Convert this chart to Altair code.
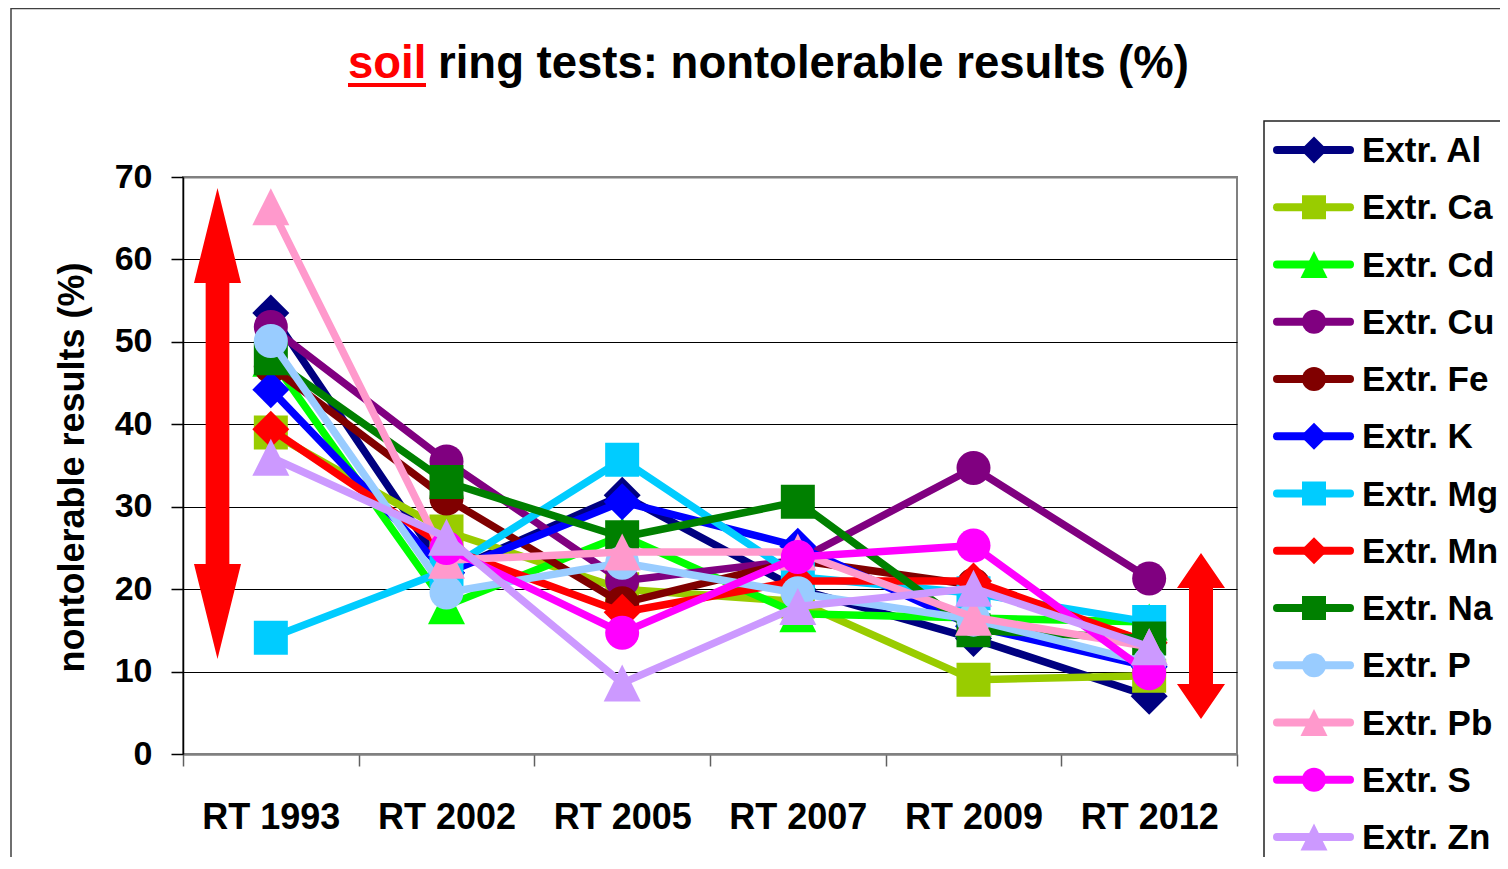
import altair as alt
import pandas as pd

tests = ["RT 1993", "RT 2002", "RT 2005", "RT 2007", "RT 2009", "RT 2012"]
names = ["Extr. Al", "Extr. Ca", "Extr. Cd", "Extr. Cu", "Extr. Fe", "Extr. K",
         "Extr. Mg", "Extr. Mn", "Extr. Na", "Extr. P", "Extr. Pb", "Extr. S", "Extr. Zn"]
colors = ["#000080", "#99CC00", "#00FF00", "#800080", "#800000", "#0000FF",
          "#00CCFF", "#FF0000", "#008000", "#99CCFF", "#FF99CC", "#FF00FF", "#CC99FF"]
kinds = ["diamond", "square", "triangle", "circle", "circle", "diamond",
         "square", "diamond", "square", "circle", "triangle", "circle", "triangle"]

al = [53.5, 22.0, 31.4, 20.0, 14.0, 7.0]
ca = [39.0, 27.0, 20.0, 18.5, 9.0, 9.5]
cd = [48.0, 18.0, 26.5, 17.0, 16.5, 16.0]
cu = [51.8, 35.5, 21.0, 23.5, 34.7, 21.3]
fe = [47.0, 31.0, 18.3, 23.5, 20.5, 13.5]
k = [44.2, 22.0, 30.6, 25.2, 15.5, 10.6]
mg = [14.1, 22.3, 35.7, 21.5, 19.5, 16.0]
mn = [39.4, 25.0, 17.2, 21.0, 21.0, 13.5]
na = [48.0, 33.0, 26.3, 30.6, 15.0, 14.0]
p = [50.1, 19.6, 23.2, 19.5, 16.3, 11.0]
pb = [66.4, 23.5, 24.5, 24.5, 16.6, 13.0]
s = [None, 25.0, 14.7, 23.9, 25.3, 9.8]
zn = [36.0, 26.3, 8.6, 17.9, 20.1, 13.0]
series = [al, ca, cd, cu, fe, k, mg, mn, na, p, pb, s, zn]

FONT = "Liberation Sans, Arial, sans-serif"
TRI = "M0,-1L1,1L-1,1Z"


def shape_of(kind):
    return TRI if kind == "triangle" else kind


def main_size(kind):
    return 1369 if kind in ("diamond", "triangle") else 1156


def leg_size(kind):
    return 729 if kind in ("diamond", "triangle") else 576


def arrow_path(h, head_w, head_h, shaft_w):
    r = h / 2.0
    a = head_w / 2.0 / r
    b = 1 - head_h / r
    c = shaft_w / 2.0 / r
    pts = [(0, -1), (a, -b), (c, -b), (c, b), (a, b), (0, 1), (-a, b), (-c, b), (-c, -b), (-a, -b)]
    return "M" + "L".join(f"{x:.4f},{y:.4f}" for x, y in pts) + "Z"


rows = []
for n, vals in zip(names, series):
    for t, v in zip(tests, vals):
        if v is not None:
            rows.append({"name": n, "test": t, "value": v})
df = pd.DataFrame(rows)

W, H = 1054, 577
PAD = {"left": 175, "top": 169, "right": 263, "bottom": 103}

grid_color = {"condition": {"test": "datum.value === 0 || datum.value === 70", "value": "#808080"}, "value": "#000000"}
grid_width = {"condition": {"test": "datum.value === 0 || datum.value === 70", "value": 2}, "value": 1}

x_enc = alt.X(
    "test:N", sort=tests, title=None,
    scale=alt.Scale(type="band", domain=tests, paddingInner=0, paddingOuter=0),
    axis=alt.Axis(tickBand="extent", labelAngle=0, grid=False, domainColor="#808080", domainWidth=2,
                  tickColor="#606060", tickWidth=1.5, tickSize=12, labelFont=FONT, labelFontSize=36,
                  labelFontWeight="bold", labelColor="black", labelBaseline="alphabetic", labelPadding=62),
)
y_enc = alt.Y(
    "value:Q",
    scale=alt.Scale(domain=[0, 70], nice=False, zero=True),
    axis=alt.Axis(values=[0, 10, 20, 30, 40, 50, 60, 70], grid=True, gridColor=grid_color, gridWidth=grid_width,
                  domainColor="black", domainWidth=1.5, tickColor="black", tickWidth=1.5, tickSize=12,
                  labelFont=FONT, labelFontSize=34, labelFontWeight="bold", labelColor="black", labelPadding=19,
                  title="nontolerable results (%)", titleFont=FONT, titleFontSize=36, titleFontWeight="bold",
                  titleColor="black", titleAngle=270, titleX=-100, titleY=290, titleAlign="center",
                  titleBaseline="alphabetic"),
)

one = pd.DataFrame({"a": [0]})

left_arrow = alt.Chart(one).mark_point(
    shape=arrow_path(471, 47, 95, 23.7), size=471 ** 2, filled=True, color="#FF0000", opacity=1, strokeWidth=0
).encode(x=alt.value(34.5), y=alt.value(246.5))
right_arrow = alt.Chart(one).mark_point(
    shape=arrow_path(166, 48, 35, 24), size=166 ** 2, filled=True, color="#FF0000", opacity=1, strokeWidth=0
).encode(x=alt.value(1018), y=alt.value(459))

layers = []
for n, c, kd in zip(names, colors, kinds):
    layers.append(
        alt.Chart().mark_line(color=c, strokeWidth=7.5, strokeJoin="round")
        .encode(x=x_enc, y=y_enc).transform_filter(alt.datum.name == n)
    )
    layers.append(
        alt.Chart().mark_point(shape=shape_of(kd), size=main_size(kd), filled=True, color=c, opacity=1, strokeWidth=0)
        .encode(x=x_enc, y=y_enc).transform_filter(alt.datum.name == n)
    )
main = alt.layer(*layers, data=df)

# legend
leg_df = pd.DataFrame({"name": names, "color": colors, "shape": [shape_of(kd) for kd in kinds],
                       "size": [leg_size(kd) for kd in kinds]})
leg_y = alt.Y("name:N", sort=names, axis=None,
              scale=alt.Scale(type="point", domain=names, range=[-27, 660], padding=0))
leg_box = alt.Chart(one).mark_rect(fillOpacity=0, stroke="#222222", strokeWidth=1.5).encode(
    x=alt.value(1081), x2=alt.value(1400), y=alt.value(-56), y2=alt.value(720))
leg_lines = alt.Chart(leg_df).mark_rule(strokeWidth=8, strokeCap="round").encode(
    x=alt.value(1094), x2=alt.value(1167), y=leg_y,
    color=alt.Color("color:N", scale=None, legend=None))
leg_pts = alt.Chart(leg_df).mark_point(filled=True, opacity=1, strokeWidth=0).encode(
    x=alt.value(1131), y=leg_y,
    color=alt.Color("color:N", scale=None, legend=None),
    shape=alt.Shape("shape:N", scale=None, legend=None),
    size=alt.Size("size:Q", scale=None, legend=None))
leg_text = alt.Chart(leg_df).mark_text(align="left", baseline="middle", font=FONT, fontSize=35,
                                       fontWeight="bold", color="black", dy=1).encode(
    x=alt.value(1179), y=leg_y, text="name:N")
legend = alt.layer(leg_box, leg_lines, leg_pts, leg_text)

# title and outer frame
frame = alt.Chart(one).mark_rect(fillOpacity=0, stroke="#404040", strokeWidth=1.5).encode(
    x=alt.value(-172), x2=alt.value(1400), y=alt.value(-168.5), y2=alt.value(900))
t_soil = alt.Chart(one).mark_text(text="soil", align="left", baseline="alphabetic", font=FONT, fontSize=45.5,
                                  fontWeight="bold", color="#FF0000").encode(x=alt.value(165), y=alt.value(-99))
t_rest = alt.Chart(one).mark_text(text="ring tests: nontolerable results (%)", align="left", baseline="alphabetic",
                                  font=FONT, fontSize=45.5, fontWeight="bold", color="black").encode(
    x=alt.value(255), y=alt.value(-99))
t_line = alt.Chart(one).mark_rule(color="#FF0000", strokeWidth=4).encode(
    x=alt.value(165), x2=alt.value(243), y=alt.value(-92))
deco = alt.layer(frame, t_soil, t_rest, t_line, left_arrow, right_arrow)

chart = alt.layer(deco, main, legend).resolve_scale(y="independent", x="independent").properties(
    width=W, height=H, padding=PAD, autosize=alt.AutoSizeParams(type="none"), background="white"
).configure_view(stroke="#808080", strokeWidth=2)

chart.save("out.html", embed_options={"renderer": "svg", "actions": False})
